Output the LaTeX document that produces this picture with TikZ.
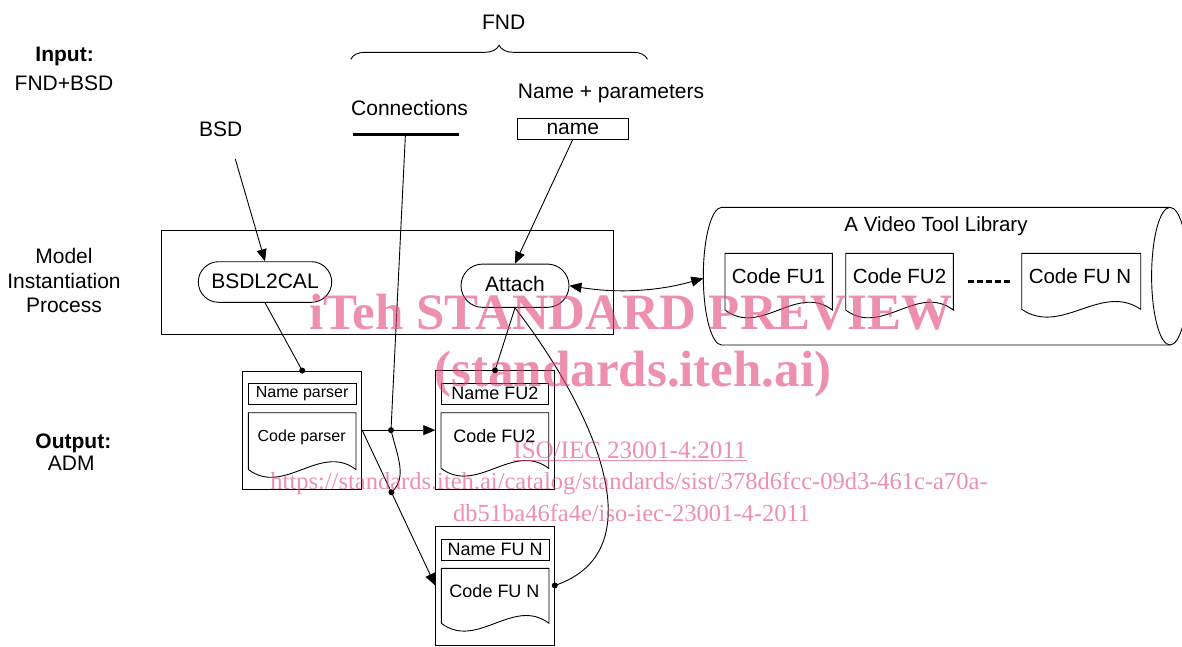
\documentclass[tikz,border=0pt]{standalone}
\usepackage{fontspec}
\setmainfont{Liberation Sans}
\newfontfamily\wmfont{Liberation Serif}
\usetikzlibrary{arrows.meta,shapes.misc,decorations.pathreplacing,calc}
\definecolor{wmcol}{RGB}{225,70,120}
\newcommand\docshp[5]{%
  \draw (#1,#4) -- (#1,#3) -- (#2,#3) -- (#2,#4) .. controls ({#2-(#2-#1)/3},{#4-#5}) and ({#1+(#2-#1)/3},{#4+#5}) .. (#1,#4);
}
\begin{document}
\begin{tikzpicture}[x=1pt,y=-1pt,line width=0.9pt,
  every node/.style={inner sep=0pt},
  t21/.style={font=\fontsize{21}{25}\selectfont},
  t21b/.style={font=\fontsize{21}{25}\selectfont\bfseries},
  t20/.style={font=\fontsize{20.5}{24}\selectfont},
  t18/.style={font=\fontsize{18}{22}\selectfont},
  t16/.style={font=\fontsize{16}{19}\selectfont},
  lbl/.style={anchor=base},
  bx21/.style={text height=14pt,text depth=1.8pt},
  bx18/.style={text height=12.4pt,text depth=1.8pt},
  bx16/.style={text height=9.7pt,text depth=1.6pt},
  arr/.style={-{Triangle[length=12pt,width=10pt]}},
  wm/.style={anchor=base,text=wmcol,text opacity=0.6},
]
\useasboundingbox (0,0) rectangle (1182,646);

% left labels
\node[t21b,anchor=base west] (inp) at (35,61) {Input:};
\node[t21,lbl] (inp2) at (64,90.5) {FND+BSD};
\node[t21,lbl] (m1) at (64,263.8) {Model};
\node[t21,lbl] (m2) at (64,288.3) {Instantiation};
\node[t21,lbl] (m3) at (64,312.8) {Process};
\node[t21b,anchor=base west] (outp) at (35,448.3) {Output:};
\node[t21,lbl] (adm) at (71.3,470.5) {ADM};

% top
\node[t21,lbl] (fnd) at (503.6,29.3) {FND};
\draw[decorate,decoration={brace,amplitude=14pt}] (350.7,59.3) -- (647.5,59.3);
\node[t21,lbl] (connlbl) at (409.6,115) {Connections};
\coordinate (cbarL) at (352.8,134.3);
\coordinate (cbarR) at (458.8,134.3);
\draw[line width=3pt] (cbarL) -- (cbarR);
\coordinate (cbar) at (405.4,135);
\node[t21,lbl] (nplbl) at (611,98.5) {Name + parameters};
\node[t21,draw,bx21,minimum width=111.6,minimum height=20.7] (nm) at (572.8,128.65) {name};
\node[t21,lbl] (bsd) at (220.6,136) {BSD};
\coordinate (bsdS) at (235.3,159);

% process
\node[draw,minimum width=452.3,minimum height=104] (proc) at (387.15,282) {};
\node[t21,draw,rounded rectangle,bx21,minimum width=133.4,minimum height=40.6] (b2c) at (265,282) {BSDL2CAL};
\node[t21,draw,rounded rectangle,bx21,minimum width=108,minimum height=43.3] (att) at (515,285.7) {Attach};
\draw[arr] (bsdS) -- (b2c.north);
\draw[arr] (nm.south) -- (att.north);

% library
\draw (1170,207.3) -- (721.7,207.3) arc[start angle=270,end angle=90,x radius=18.4,y radius=68.85] -- (1170,345);
\draw (1170,276.15) ellipse[x radius=18.4,y radius=68.85];
\coordinate (libW) at (703.3,278.3);
\node[t20,lbl] (libt) at (936,231) {A Video Tool Library};
\docshp{725}{832.3}{253.3}{310}{27}
\node[t20,lbl] (cfu1) at (778.6,283.3) {Code FU1};
\docshp{845.7}{953.3}{253.3}{310}{27}
\node[t20,lbl] (cfu2) at (899.5,283.3) {Code FU2};
\draw[line width=3pt,dash pattern=on 6pt off 3pt] (968.3,281.7) -- (1010,281.7);
\docshp{1021.7}{1140.7}{253.3}{309.3}{27}
\node[t20,lbl] (cfun) at (1080,283.3) {Code FU N};
\draw[{Triangle[length=12pt,width=10pt]}-{Triangle[length=12pt,width=10pt]}] (att.east) .. controls (615,293) and (655,292) .. (libW);

% output blocks
\node[draw,minimum width=119,minimum height=118.3] (np) at (302.2,430.15) {};
\node[t16,draw,bx16,minimum width=107.7,minimum height=20.7] (npn) at (302.15,393.65) {Name parser};
\docshp{248.3}{356}{412.7}{469.5}{27}
\node[t16,lbl] (npc) at (301.7,441.7) {Code parser};

\node[draw,minimum width=118.6,minimum height=118.6] (fu2) at (495,430.15) {};
\node[t18,draw,bx18,minimum width=107.7,minimum height=21] (fu2n) at (494.85,393.8) {Name FU2};
\docshp{441}{548.7}{412.7}{468.3}{27}
\node[t18,lbl] (fu2c) at (494.3,442.5) {Code FU2};

\node[draw,minimum width=118.6,minimum height=119] (fuN) at (495,585.5) {};
\node[t18,draw,bx18,minimum width=107.7,minimum height=21] (fuNn) at (495.15,549.8) {Name FU N};
\docshp{441.3}{549}{568.3}{623.3}{27}
\node[t18,lbl] (fuNc) at (494.5,597.7) {Code FU N};

% connectors
\draw (b2c.south) -- (np.north);
\fill (np.north) circle[radius=3];
\draw (att.south) -- (fu2.north);
\fill (fu2.north) circle[radius=3];
\draw (att.south) .. controls (590,405) and (660,550) .. (fuN.east);
\fill (fuN.east) circle[radius=3];
\draw[arr] (np.east) -- (fu2.west);
\draw[arr] (np.east) -- (fuN.west);
\coordinate (j1) at (391,430.15);
\coordinate (j2) at ($(np.east)!0.4!(fuN.west)$);
\draw (cbar) -- (j1) .. controls (397,455) and (408,478) .. (j2);
\fill (j1) circle[radius=3];
\fill (j2) circle[radius=3];

% watermark
\node[wm,font={\wmfont\bfseries\fontsize{51}{55}\selectfont}] (wm1) at (631,329) {iTeh STANDARD PREVIEW};
\node[wm,font={\wmfont\bfseries\fontsize{51}{55}\selectfont}] (wm2) at (633,386.7) {(standards.iteh.ai)};
\node[wm,font={\wmfont\fontsize{25}{28}\selectfont}] (wm3) at (630,458.3) {\underline{ISO/IEC 23001-4:2011}};
\node[wm,font={\wmfont\fontsize{24.5}{28}\selectfont}] (wm4) at (629,489.3) {https://standards.iteh.ai/catalog/standards/sist/378d6fcc-09d3-461c-a70a-};
\node[wm,font={\wmfont\fontsize{24.5}{28}\selectfont}] (wm5) at (631.6,521.7) {db51ba46fa4e/iso-iec-23001-4-2011};
\end{tikzpicture}
\end{document}
